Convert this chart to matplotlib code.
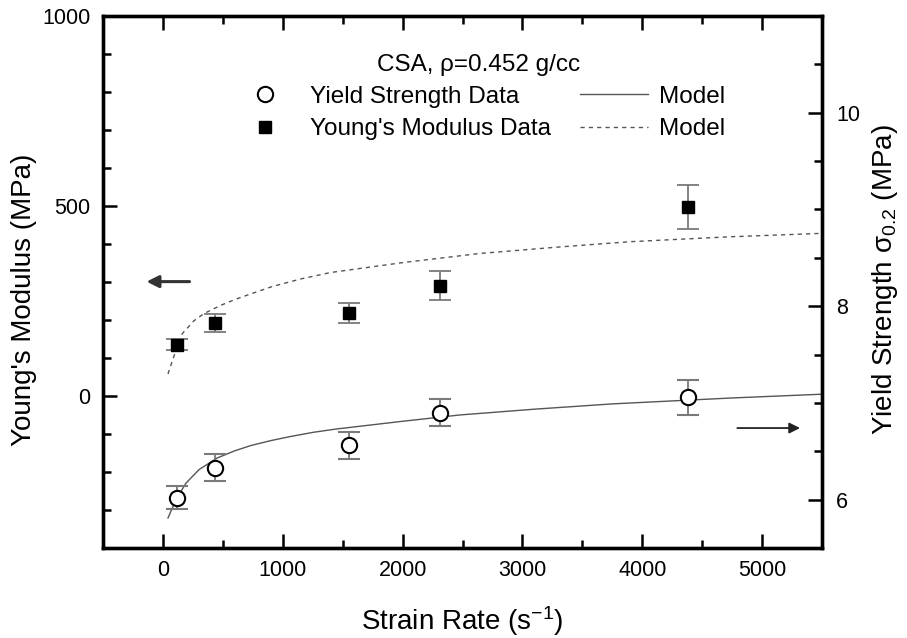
import matplotlib.pyplot as plt
from matplotlib.lines import Line2D

plt.rcParams['font.family'] = ['Liberation Sans', 'DejaVu Sans']
plt.rcParams['mathtext.fontset'] = 'custom'
plt.rcParams['mathtext.rm'] = 'Liberation Sans'
plt.rcParams['mathtext.it'] = 'Liberation Sans'

# measured data
strain_rate = [115, 435, 1550, 2310, 4380]
youngs = [135, 192, 218, 290, 497]
youngs_err = [15, 24, 26, 38, 58]
yield_str = [6.02, 6.33, 6.56, 6.90, 7.06]
yield_err = [0.12, 0.14, 0.135, 0.14, 0.18]

# model curves
ym_rate = [42, 86, 161, 259, 343, 485, 610, 736, 911, 1150, 1400, 2000, 2642, 3300, 3896, 4732, 5500]
ym_model = [58, 100, 164, 198, 217, 239, 255, 269, 288, 308, 325, 351, 375, 392, 406, 419, 428]
ys_rate = [42, 109, 192, 301, 452, 600, 736, 900, 1054, 1250, 1446, 2000, 2475, 3100, 3754, 4732, 5500]
ys_model = [5.81, 6.00, 6.17, 6.31, 6.43, 6.505, 6.56, 6.61, 6.65, 6.695, 6.73, 6.81, 6.875, 6.935, 6.99, 7.05, 7.09]

fig = plt.figure(figsize=(9.07, 6.38), dpi=100)
ax = fig.add_axes([0.1136, 0.1411, 0.7927, 0.8338])
ax2 = ax.twinx()

grey = '#7a7a7a'
ax.errorbar(strain_rate, youngs, yerr=youngs_err, fmt='s', color='black', ms=9,
            ecolor=grey, elinewidth=1.3, capsize=8, capthick=1.3, zorder=3)
ax.plot(ym_rate, ym_model, color='#555555', lw=1.0, ls=(0, (3, 3)))

ax2.errorbar(strain_rate, yield_str, yerr=yield_err, fmt='o', mfc='white', mec='black',
             mew=1.5, ms=11, ecolor=grey, elinewidth=1.3, capsize=8, capthick=1.3, zorder=3)
ax2.plot(ys_rate, ys_model, color='#555555', lw=1.0)

# arrows pointing to each axis
ax.annotate('', xy=(-160, 301), xytext=(245, 301),
            arrowprops=dict(arrowstyle='-|>', color='#333333', lw=2.2, mutation_scale=18))
ax2.annotate('', xy=(5340, 6.74), xytext=(4770, 6.74),
             arrowprops=dict(arrowstyle='-|>', color='#222222', lw=1.3, mutation_scale=16))

ax.set_xlim(-500, 5500)
ax.set_ylim(-400, 1000)
ax2.set_ylim(5.5, 11.0)
ax.set_xticks([0, 1000, 2000, 3000, 4000, 5000])
ax.set_xticks(range(-500, 5501, 500), minor=True)
ax.set_yticks([0, 500, 1000])
ax.set_yticks(range(-400, 1001, 100), minor=True)
ax2.set_yticks([6, 8, 10])
ax2.set_yticks([5.5, 6.5, 7, 7.5, 8.5, 9, 9.5, 10.5, 11], minor=True)

ax.tick_params(which='both', direction='in', top=True, right=False, width=1.8,
               labelsize=15.5, pad=9)
ax.tick_params(which='major', length=10)
ax.tick_params(which='minor', length=6)
ax2.tick_params(which='both', direction='in', width=1.8, labelsize=15.5, pad=10)
ax2.tick_params(which='major', length=10)
ax2.tick_params(which='minor', length=6)
for a in (ax, ax2):
    for s in a.spines.values():
        s.set_linewidth(2.4)

ax.set_xlabel('Strain Rate (s$^{\\mathregular{-1}}$)', fontsize=20)
ax.set_ylabel("Young's Modulus (MPa)", fontsize=20)
ax2.set_ylabel('Yield Strength \u03c3$_{\\mathregular{0.2}}$ (MPa)', fontsize=20)
ax.xaxis.set_label_coords(0.5, -0.105)
ax.yaxis.set_label_coords(-0.092, 0.466)
ax2.yaxis.set_label_coords(1.067, 0.504)

handles = [
    Line2D([], [], ls='none', marker='o', mfc='white', mec='black', mew=1.5, ms=11),
    Line2D([], [], ls='none', marker='s', color='black', ms=9),
    Line2D([], [], color='#555555', lw=1.0),
    Line2D([], [], color='#555555', lw=1.0, ls=(0, (3, 3))),
]
labels = ['Yield Strength Data', "Young's Modulus Data", 'Model', 'Model']
leg = ax.legend(handles, labels, ncol=2, frameon=False, fontsize=17.5,
                title='CSA, \u03c1=0.452 g/cc', title_fontsize=17.5,
                loc='upper center', bbox_to_anchor=(0.522, 0.952),
                handlelength=2.8, handletextpad=0.45, columnspacing=1.2,
                labelspacing=0.42, borderpad=0.0)

fig.savefig('out.png', dpi=100)
